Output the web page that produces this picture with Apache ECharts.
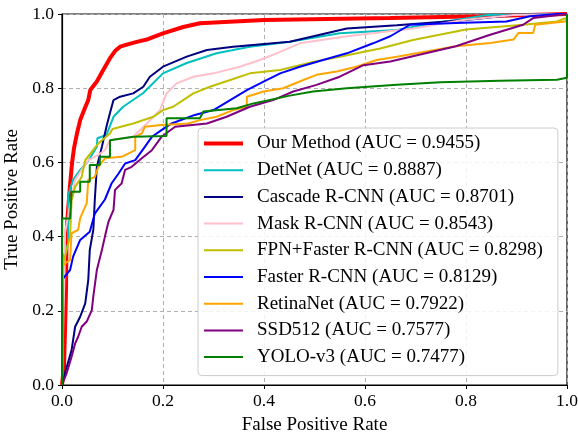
<!DOCTYPE html>
<html>
<head>
<meta charset="utf-8">
<script src="https://cdn.jsdelivr.net/npm/echarts@6/dist/echarts.min.js"></script>
<style>html,body{margin:0;padding:0;background:#fff}#c{width:578px;height:433px}</style>
</head>
<body>
<div id="c"></div>
<script>
const tickLabels = ['0.0','0.2','0.4','0.6','0.8','1.0'];
const seriesNames = [
  'Our Method (AUC = 0.9455)',
  'DetNet (AUC = 0.8887)',
  'Cascade R-CNN (AUC = 0.8701)',
  'Mask R-CNN (AUC = 0.8543)',
  'FPN+Faster R-CNN (AUC = 0.8298)',
  'Faster R-CNN (AUC = 0.8129)',
  'RetinaNet (AUC = 0.7922)',
  'SSD512 (AUC = 0.7577)',
  'YOLO-v3 (AUC = 0.7477)'
];
const seriesColors = ['#ff0000','#00bfbf','#000080','#ffc0cb','#bfbf00','#0000ff','#ffa500','#800080','#008000'];

const ourMethod = [[0,0],[0.004,0.05],[0.006,0.15],[0.008,0.26],[0.009,0.41],[0.012,0.47],[0.016,0.54],[0.02,0.6],[0.024,0.64],[0.03,0.68],[0.036,0.714],[0.045,0.745],[0.052,0.768],[0.056,0.795],[0.069,0.818],[0.08,0.845],[0.095,0.881],[0.105,0.9],[0.115,0.912],[0.13,0.918],[0.148,0.925],[0.17,0.932],[0.2,0.948],[0.24,0.965],[0.273,0.975],[0.4,0.984],[0.65,0.989],[0.83,0.994],[1,1]];
const detNet = [[0,0],[0.002,0.2],[0.004,0.35],[0.012,0.38],[0.012,0.51],[0.022,0.553],[0.036,0.58],[0.05,0.6],[0.069,0.642],[0.07,0.665],[0.088,0.674],[0.102,0.723],[0.121,0.75],[0.161,0.787],[0.2,0.84],[0.247,0.868],[0.306,0.894],[0.372,0.912],[0.451,0.925],[0.55,0.948],[0.663,0.957],[0.735,0.975],[0.8,0.988],[0.84,0.997],[1,1]];
const cascade = [[0,0],[0.006,0.032],[0.019,0.094],[0.026,0.157],[0.036,0.184],[0.046,0.22],[0.052,0.283],[0.055,0.364],[0.062,0.418],[0.065,0.5],[0.069,0.588],[0.079,0.642],[0.088,0.696],[0.095,0.733],[0.102,0.768],[0.115,0.777],[0.141,0.786],[0.161,0.804],[0.174,0.831],[0.2,0.858],[0.247,0.885],[0.287,0.903],[0.339,0.912],[0.451,0.925],[0.564,0.961],[0.663,0.97],[0.8,0.984],[0.894,0.997],[1,1]];
const maskRcnn = [[0,0],[0.003,0.2],[0.005,0.3],[0.006,0.41],[0.019,0.507],[0.026,0.553],[0.039,0.58],[0.052,0.606],[0.072,0.62],[0.085,0.633],[0.095,0.66],[0.141,0.669],[0.168,0.705],[0.194,0.741],[0.207,0.786],[0.227,0.813],[0.26,0.831],[0.3,0.84],[0.352,0.858],[0.392,0.876],[0.432,0.898],[0.471,0.921],[0.564,0.94],[0.695,0.961],[0.794,0.984],[0.894,0.997],[1,1]];
const fpnFaster = [[0,0],[0.002,0.33],[0.006,0.346],[0.016,0.4],[0.019,0.499],[0.026,0.534],[0.039,0.561],[0.046,0.606],[0.072,0.651],[0.095,0.678],[0.1,0.69],[0.141,0.705],[0.181,0.723],[0.2,0.741],[0.22,0.75],[0.24,0.768],[0.26,0.786],[0.293,0.804],[0.333,0.822],[0.372,0.84],[0.432,0.849],[0.497,0.871],[0.55,0.885],[0.63,0.907],[0.695,0.93],[0.8,0.958],[0.913,0.971],[0.98,0.98],[1,0.99]];
const fasterRcnn = [[0,0],[0.002,0.287],[0.016,0.31],[0.022,0.346],[0.036,0.391],[0.055,0.413],[0.065,0.462],[0.085,0.5],[0.098,0.543],[0.112,0.57],[0.125,0.597],[0.145,0.606],[0.164,0.642],[0.178,0.669],[0.197,0.687],[0.217,0.705],[0.263,0.728],[0.3,0.741],[0.333,0.768],[0.366,0.795],[0.405,0.822],[0.432,0.84],[0.471,0.858],[0.517,0.876],[0.564,0.894],[0.616,0.921],[0.65,0.94],[0.689,0.971],[0.78,0.976],[0.88,0.98],[0.927,0.994],[0.98,1],[1,1]];
const retinaNet = [[0,0],[0.002,0.32],[0.006,0.328],[0.016,0.337],[0.019,0.409],[0.032,0.418],[0.036,0.45],[0.049,0.49],[0.052,0.553],[0.065,0.561],[0.072,0.588],[0.085,0.611],[0.118,0.615],[0.145,0.633],[0.145,0.669],[0.158,0.678],[0.164,0.696],[0.197,0.701],[0.25,0.705],[0.273,0.714],[0.306,0.723],[0.339,0.741],[0.366,0.75],[0.366,0.777],[0.399,0.791],[0.438,0.8],[0.478,0.822],[0.504,0.836],[0.544,0.845],[0.583,0.858],[0.623,0.876],[0.663,0.885],[0.78,0.913],[0.848,0.922],[0.894,0.931],[0.904,0.949],[0.933,0.949],[0.937,0.971],[0.996,0.98],[1,0.985]];
const ssd512 = [[0,0],[0.003,0.005],[0.009,0.031],[0.019,0.076],[0.026,0.112],[0.032,0.13],[0.039,0.157],[0.049,0.171],[0.059,0.202],[0.062,0.238],[0.069,0.31],[0.079,0.364],[0.085,0.4],[0.092,0.44],[0.102,0.472],[0.105,0.526],[0.118,0.543],[0.125,0.58],[0.138,0.588],[0.158,0.611],[0.178,0.633],[0.197,0.669],[0.224,0.696],[0.287,0.705],[0.326,0.723],[0.372,0.75],[0.418,0.768],[0.458,0.791],[0.504,0.809],[0.55,0.831],[0.597,0.862],[0.65,0.872],[0.78,0.913],[0.848,0.944],[0.913,0.971],[0.933,0.989],[1,1]];
const yoloV3 = [[0,0],[0,0.449],[0.016,0.449],[0.019,0.521],[0.036,0.521],[0.036,0.548],[0.055,0.548],[0.055,0.593],[0.075,0.593],[0.075,0.615],[0.095,0.615],[0.095,0.66],[0.141,0.669],[0.207,0.671],[0.207,0.719],[0.273,0.719],[0.28,0.737],[0.346,0.746],[0.379,0.759],[0.451,0.78],[0.497,0.791],[0.564,0.8],[0.663,0.809],[0.749,0.816],[0.867,0.82],[0.98,0.823],[1,0.828],[1,1]];

const curves = [ourMethod, detNet, cascade, maskRcnn, fpnFaster, fasterRcnn, retinaNet, ssd512, yoloV3];
const serif = 'Liberation Serif';

const chart = echarts.init(document.getElementById('c'), null, {renderer:'canvas'});
chart.setOption({
  animation: false,
  backgroundColor: '#fff',
  grid: {left: 62, right: 11, top: 14, bottom: 48, show: true, borderColor: '#000', borderWidth: 1.2, containLabel: false, outerBoundsMode: 'none'},
  xAxis: {
    type: 'value', min: 0, max: 1, interval: 0.2,
    name: 'False Positive Rate', nameLocation: 'middle', nameGap: 31,
    nameTextStyle: {fontFamily: serif, fontSize: 19, color: '#000'},
    axisLine: {show: true, lineStyle: {color: '#000', width: 1.2}},
    axisTick: {show: true, length: 4, lineStyle: {color: '#000'}},
    axisLabel: {margin: 7, fontFamily: serif, fontSize: 17.5, color: '#000', formatter: v => tickLabels[Math.round(v * 5)]},
    splitLine: {show: true, lineStyle: {color: '#b0b0b0', type: [4, 3], width: 1}}
  },
  yAxis: {
    type: 'value', min: 0, max: 1, interval: 0.2,
    name: 'True Positive Rate', nameLocation: 'middle', nameGap: 35,
    nameTextStyle: {fontFamily: serif, fontSize: 19, color: '#000'},
    axisLine: {show: true, lineStyle: {color: '#000', width: 1.2}},
    axisTick: {show: true, length: 4, lineStyle: {color: '#000'}},
    axisLabel: {margin: 8, fontFamily: serif, fontSize: 17.5, color: '#000', formatter: v => tickLabels[Math.round(v * 5)]},
    splitLine: {show: true, lineStyle: {color: '#b0b0b0', type: [4, 3], width: 1}}
  },
  legend: {
    orient: 'vertical', left: 198, top: 128,
    padding: [6, 15, 9, 6],
    itemWidth: 39, itemHeight: 14, itemGap: 7.7,
    backgroundColor: 'rgba(255,255,255,0.85)', borderColor: '#cccccc', borderWidth: 1, borderRadius: 4,
    textStyle: {fontFamily: serif, fontSize: 19, lineHeight: 19, color: '#000', padding: [0, 0, 0, 9]},
    data: seriesNames.map((n, i) => ({name: n, icon: i === 0 ? 'path://M0 0H39V4H0Z' : 'path://M0 0H39V2H0Z'}))
  },
  series: curves.map((d, i) => ({
    name: seriesNames[i], type: 'line', data: d,
    symbol: 'none', showSymbol: false,
    lineStyle: {color: seriesColors[i], width: i === 0 ? 4 : 2},
    itemStyle: {color: seriesColors[i]},
    z: 2 + i
  }))
});
</script>
</body>
</html>
